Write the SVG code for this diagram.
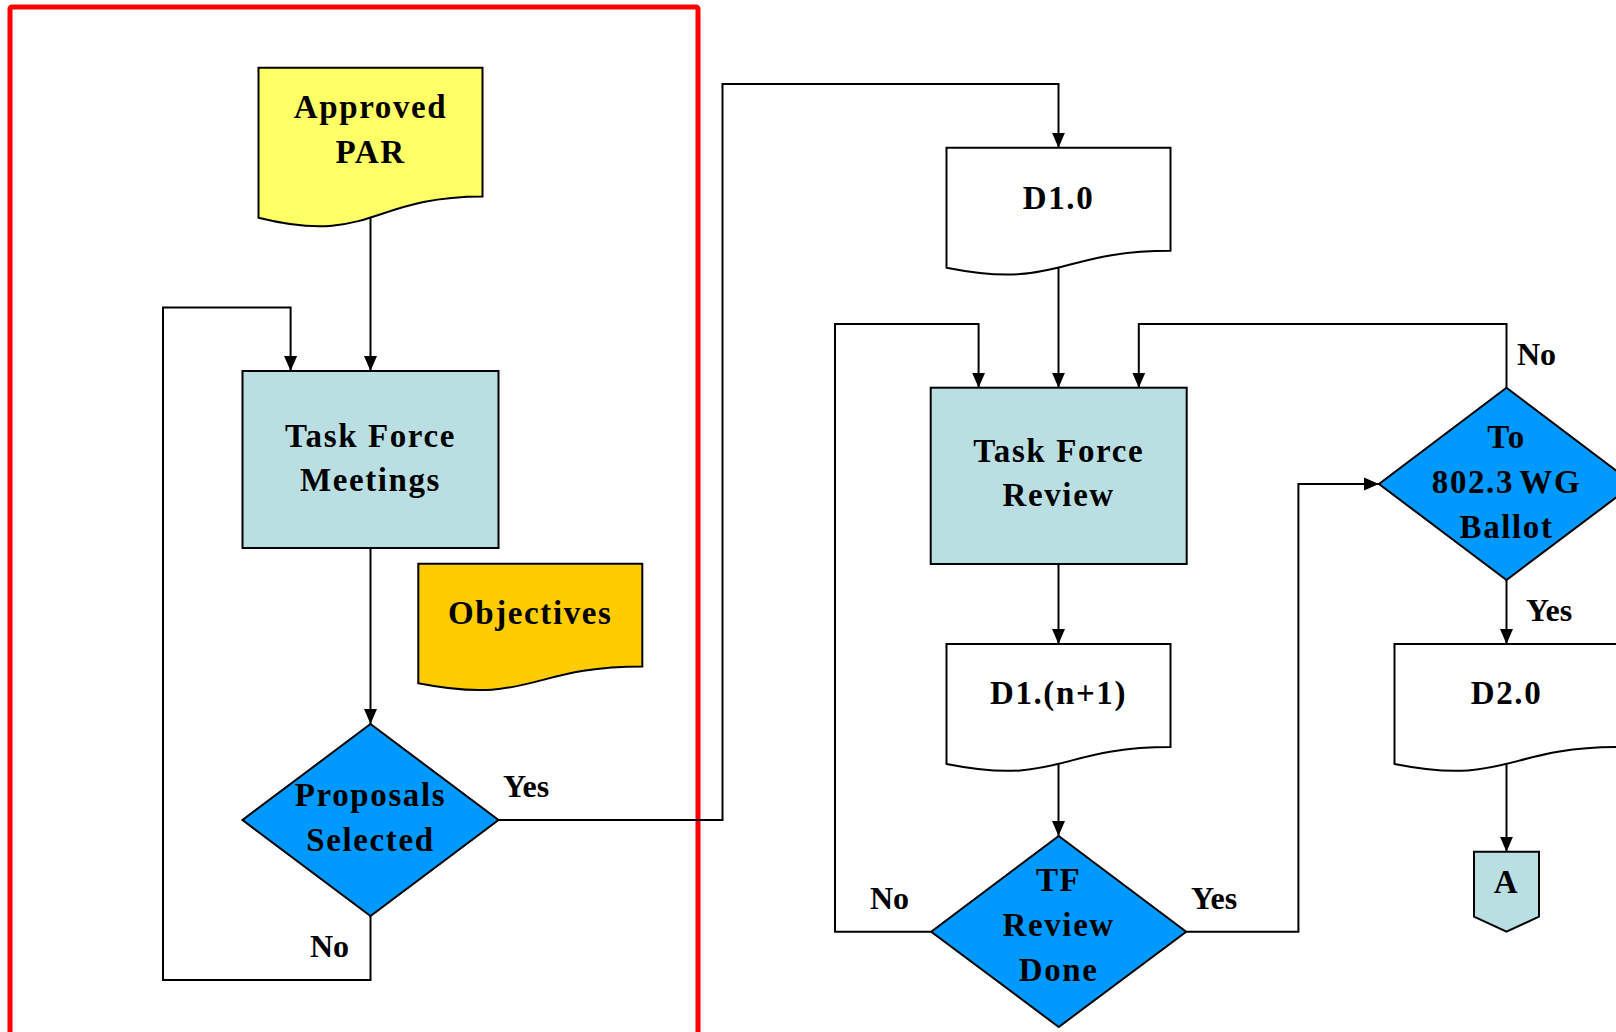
<svg xmlns="http://www.w3.org/2000/svg" width="1616" height="1032" viewBox="0 0 1616 1032">
<defs>
<marker id="arr" viewBox="0 0 15 14" refX="15" refY="7" markerWidth="15" markerHeight="14" markerUnits="userSpaceOnUse" orient="auto">
<path d="M0,0.5 L15,7 L0,13.5 Z" fill="#000"/>
</marker>
<style>
.t{font-family:"Liberation Serif","DejaVu Serif",serif;font-weight:bold;font-size:33px;fill:#000;text-anchor:middle;letter-spacing:1.6px}
.l{font-family:"Liberation Serif","DejaVu Serif",serif;font-weight:bold;font-size:32px;fill:#000}
.s{stroke:#000;stroke-width:2}
.c{fill:none;stroke:#000;stroke-width:2}
.ca{fill:none;stroke:#000;stroke-width:2;marker-end:url(#arr)}
</style>
</defs>
<rect x="10" y="7" width="688" height="1100" rx="2" fill="none" stroke="#ff0000" stroke-width="5"/>

<g id="approved-par">
<path class="s" fill="#ffff66" d="M258.5,67.8 H482.5 V196.5 C370.5,196.5 370.5,245.6 258.5,217.7 Z"/>
<text class="t" x="370.5" y="118">Approved</text>
<text class="t" x="370.5" y="163">PAR</text>
</g>
<g id="tf-meetings">
<rect class="s" fill="#b9dfe3" x="242.5" y="371" width="256" height="177"/>
<text class="t" x="370.5" y="447">Task Force</text>
<text class="t" x="370.5" y="491">Meetings</text>
</g>
<g id="objectives">
<path class="s" fill="#ffcc00" d="M418.3,563.7 H642.3 V666.4 C530.3,666.4 530.3,705.5 418.3,683.3 Z"/>
<text class="t" x="530.3" y="624">Objectives</text>
</g>
<g id="proposals-selected">
<polygon class="s" fill="#0099ff" points="370.5,724 498.5,820 370.5,916 242.5,820"/>
<text class="t" x="370.5" y="806">Proposals</text>
<text class="t" x="370.5" y="851">Selected</text>
</g>
<g id="d1-0">
<path class="s" fill="#ffffff" d="M946.5,147.7 H1170.5 V250.8 C1058.5,250.8 1058.5,290 946.5,267.7 Z"/>
<text class="t" x="1058.5" y="209">D1.0</text>
</g>
<g id="tf-review">
<rect class="s" fill="#b9dfe3" x="930.7" y="387.7" width="256" height="176.3"/>
<text class="t" x="1058.7" y="462">Task Force</text>
<text class="t" x="1058.7" y="506">Review</text>
</g>
<g id="d1-n1">
<path class="s" fill="#ffffff" d="M946.5,644 H1170.5 V747.1 C1058.5,747.1 1058.5,786.3 946.5,764 Z"/>
<text class="t" x="1058.5" y="704">D1.(n+1)</text>
</g>
<g id="tf-review-done">
<polygon class="s" fill="#0099ff" points="1058.7,836 1186.2,931.7 1058.7,1027 931.2,931.7"/>
<text class="t" x="1058.7" y="891">TF</text>
<text class="t" x="1058.7" y="936">Review</text>
<text class="t" x="1058.7" y="981">Done</text>
</g>
<g id="wg-ballot">
<polygon class="s" fill="#0099ff" points="1506.5,387.7 1634,484 1506.5,580 1379,484"/>
<text class="t" x="1506.5" y="448">To</text>
<text class="t" x="1506.5" y="493" word-spacing="-4">802.3 WG</text>
<text class="t" x="1506.5" y="538">Ballot</text>
</g>
<g id="d2-0">
<path class="s" fill="#ffffff" d="M1394.5,644 H1618.5 V747.1 C1506.5,747.1 1506.5,786.3 1394.5,764 Z"/>
<text class="t" x="1506.5" y="704">D2.0</text>
</g>
<g id="connector-a">
<path class="s" fill="#b9dfe3" d="M1474,851.7 H1539 V916.7 L1506.5,931.7 L1474,916.7 Z"/>
<text class="t" x="1506.5" y="893">A</text>
</g>

<g id="connectors">
<path class="ca" d="M370.5,217.5 V371"/>
<path class="ca" d="M370.5,548 V724"/>
<path class="ca" d="M370.5,916 V980 H163 V307.5 H290.6 V371"/>
<path class="ca" d="M498.5,820 H722.5 V84 H1058.5 V147.7"/>
<path class="ca" d="M1058.5,268 V387.7"/>
<path class="ca" d="M1058.5,564 V644"/>
<path class="ca" d="M1058.5,764 V836"/>
<path class="ca" d="M931.2,931.7 H835 V324 H978.6 V387.7"/>
<path class="ca" d="M1186.2,931.7 H1298.4 V484 H1379"/>
<path class="ca" d="M1506.5,387.7 V324 H1138.8 V387.7"/>
<path class="ca" d="M1506.5,580 V644"/>
<path class="ca" d="M1506.5,764 V851.7"/>
<text class="l" x="503" y="797">Yes</text>
<text class="l" x="310" y="957">No</text>
<text class="l" x="1517" y="365">No</text>
<text class="l" x="1526" y="621">Yes</text>
<text class="l" x="870" y="909">No</text>
<text class="l" x="1191" y="909">Yes</text>
</g>
</svg>
